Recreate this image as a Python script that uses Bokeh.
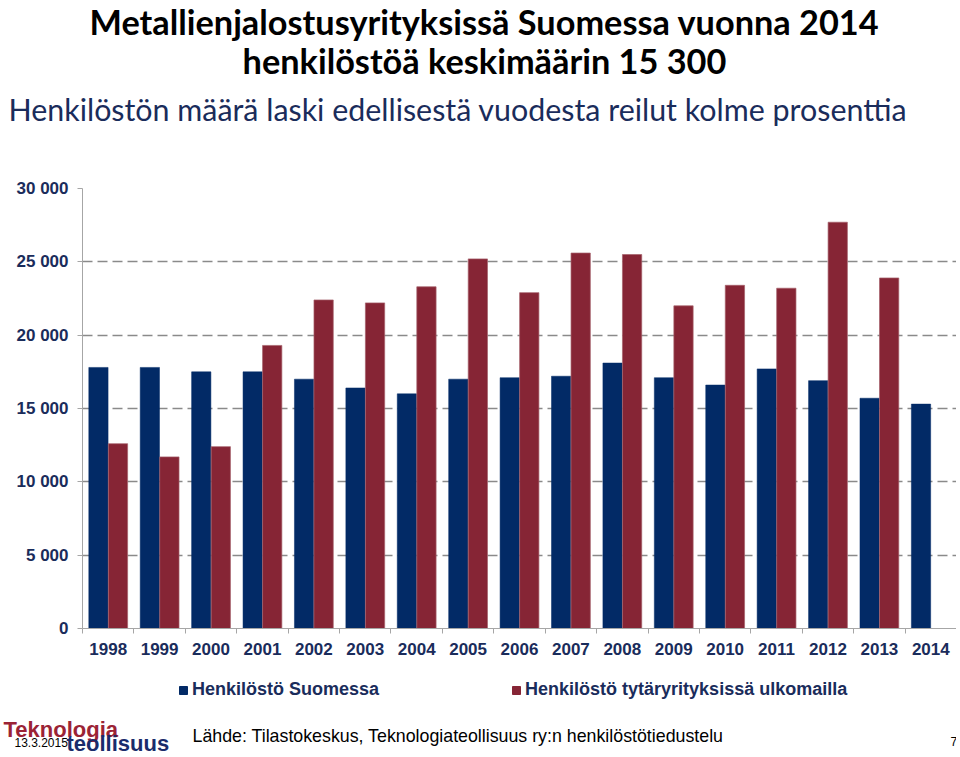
from bokeh.plotting import figure
from bokeh.layouts import column
from bokeh.models import (Range1d, FixedTicker, Label, Legend, LegendItem, ColumnDataSource)
from bokeh.transform import dodge
from bokeh.embed import file_html
from bokeh.resources import INLINE

years = [1998, 1999, 2000, 2001, 2002, 2003, 2004, 2005, 2006, 2007, 2008,
         2009, 2010, 2011, 2012, 2013, 2014]
finland = [17800, 17800, 17500, 17500, 17000, 16400, 16000, 17000, 17100,
           17200, 18100, 17100, 16600, 17700, 16900, 15700, 15300]
abroad = [12600, 11700, 12400, 19300, 22400, 22200, 23300, 25200, 22900,
          25600, 25500, 22000, 23400, 23200, 27700, 23900, None]
y_ticks = [0, 5000, 10000, 15000, 20000, 25000, 30000]
y_tick_labels = ["0", "5 000", "10 000", "15 000", "20 000", "25 000", "30 000"]

title1 = "Metallienjalostusyrityksissä Suomessa vuonna 2014"
title2 = "henkilöstöä keskimäärin 15 300"
subtitle = "Henkilöstön määrä laski edellisestä vuodesta reilut kolme prosenttia"
series_names = ["Henkilöstö Suomessa", "Henkilöstö tytäryrityksissä ulkomailla"]
source_text = "Lähde: Tilastokeskus, Teknologiateollisuus ry:n henkilöstötiedustelu"

BLUE = "#022a66"
RED = "#862535"
NAVY = "#1a2c5b"
GRID = "#8a8a8a"
AXIS = "#a6a6a6"

W = 956
TOP_H = 150
MAIN_H = 518
FOOT_H = 87


def blank(h):
    f = figure(width=W, height=h, output_backend="svg", toolbar_location=None,
               x_range=Range1d(0, W), y_range=Range1d(0, h),
               x_axis_location=None, y_axis_location=None,
               min_border=0, frame_align=False)
    f.outline_line_color = None
    f.grid.grid_line_color = None
    return f


def lab(f, h, y0, text, px, py, size, color="black", font="Lato", style="normal",
        align="left", baseline="middle"):
    f.add_layout(Label(x=px, y=h - (py - y0), x_units="screen", y_units="screen",
                       text=text, text_font=font, text_font_size=size,
                       text_font_style=style, text_color=color,
                       text_align=align, text_baseline=baseline))


# ---- header
top = blank(TOP_H)
lab(top, TOP_H, 0, title1, 484, 21, "34.3px", style="bold", align="center")
lab(top, TOP_H, 0, title2, 484, 60, "34.3px", style="bold", align="center")
lab(top, TOP_H, 0, subtitle, 8, 108, "30.4px", color=NAVY, align="left")

# ---- chart
src = ColumnDataSource(dict(year=years, fi=finland,
                            ab=[v if v is not None else float("nan") for v in abroad]))

p = figure(width=W, height=MAIN_H, output_backend="svg", toolbar_location=None,
           x_range=Range1d(years[0] - 0.5, years[-1] + 0.5),
           y_range=Range1d(0, 30000),
           min_border_left=82, min_border_right=0, min_border_top=38,
           min_border_bottom=40, frame_align=False)
p.outline_line_color = None

bar_kw = dict(width=0.375, source=src)
r1 = p.vbar(x=dodge("year", -0.19, range=p.x_range), top="fi",
            fill_color=BLUE, line_color=BLUE, line_width=0.5, **bar_kw)
r2 = p.vbar(x=dodge("year", 0.19, range=p.x_range), top="ab",
            fill_color=RED, line_color="#a5606a", line_width=0.7, **bar_kw)

p.xaxis.ticker = FixedTicker(ticks=years,
                             minor_ticks=[y - 0.5 for y in years] + [years[-1] + 0.5])
p.xaxis.major_tick_out = 0
p.xaxis.major_tick_in = 0
p.xaxis.minor_tick_out = 5
p.xaxis.minor_tick_in = 0
p.xaxis.minor_tick_line_color = AXIS
p.xaxis.axis_line_color = AXIS
p.xaxis.major_label_text_font = "Liberation Sans"
p.xaxis.major_label_text_font_style = "bold"
p.xaxis.major_label_text_font_size = "17px"
p.xaxis.major_label_text_color = NAVY
p.xaxis.major_label_standoff = 9
p.xgrid.grid_line_color = None

p.yaxis.ticker = FixedTicker(ticks=y_ticks)
p.yaxis.major_label_overrides = {t: l for t, l in zip(y_ticks, y_tick_labels)}
p.yaxis.major_tick_out = 5
p.yaxis.major_tick_in = 0
p.yaxis.major_tick_line_color = AXIS
p.yaxis.minor_tick_line_color = None
p.yaxis.axis_line_color = AXIS
p.yaxis.major_label_text_font = "Liberation Sans"
p.yaxis.major_label_text_font_style = "bold"
p.yaxis.major_label_text_font_size = "17px"
p.yaxis.major_label_text_color = NAVY
p.yaxis.major_label_standoff = 9
p.ygrid.ticker = FixedTicker(ticks=y_ticks)
p.ygrid.grid_line_color = GRID
p.ygrid.grid_line_dash = "10 5"
p.ygrid.grid_line_width = 1.5

# ---- footer (legend + source)
foot = blank(FOOT_H)
Y0 = 668
k1 = foot.vbar(x="year", top="fi", width=0.375, source=src, color=BLUE, visible=False)
k2 = foot.vbar(x="year", top="fi", width=0.375, source=src, color=RED, visible=False)
legend = Legend(items=[LegendItem(label=series_names[0], renderers=[k1]),
                       LegendItem(label=series_names[1], renderers=[k2])],
                orientation="horizontal", location=(178, FOOT_H - (690 - Y0) - 10),
                glyph_width=10, glyph_height=10, label_standoff=4, spacing=132,
                padding=0, margin=0, border_line_color=None,
                background_fill_alpha=0, inactive_fill_alpha=0,
                label_text_font="Liberation Sans", label_text_font_style="bold",
                label_text_font_size="18px", label_text_color=NAVY)
foot.add_layout(legend)

lab(foot, FOOT_H, Y0, source_text, 192, 735, "17.8px", font="Liberation Sans")
lab(foot, FOOT_H, Y0, "7", 950, 741, "12px", font="Liberation Sans")
lab(foot, FOOT_H, Y0, "Teknologia", 3, 729, "22px", color="#9b2335", font="Liberation Sans", style="bold")
lab(foot, FOOT_H, Y0, "teollisuus", 66, 743, "22px", color="#1a2c6b", font="Liberation Sans", style="bold")
lab(foot, FOOT_H, Y0, "13.3.2015", 14, 742, "12px", font="Liberation Sans")

layout = column(top, p, foot, spacing=0)
open("out.html", "w").write(file_html(layout, INLINE))
